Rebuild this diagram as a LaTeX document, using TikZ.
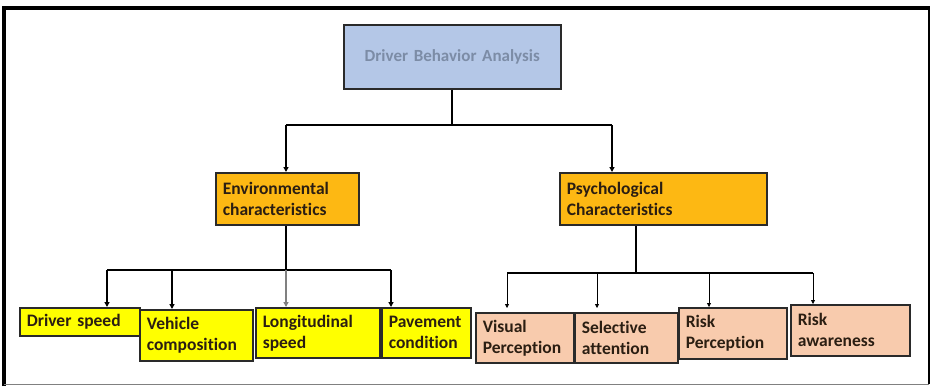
\documentclass[tikz,border=0pt]{standalone}
\usepackage{fontspec}
\setmainfont{Carlito}[Ligatures={NoCommon}]
\usetikzlibrary{arrows.meta}
\definecolor{rootfill}{HTML}{B4C7E7}
\definecolor{roottext}{HTML}{7C8CA6}
\definecolor{orangefill}{HTML}{FDB813}
\definecolor{yellowfill}{HTML}{FFFF00}
\definecolor{peachfill}{HTML}{F8CBAD}
\definecolor{boxline}{HTML}{2A2A2A}
\definecolor{txt}{HTML}{2B1E12}
\tikzset{
  box/.style={draw=boxline, line width=1.6pt, rectangle, inner xsep=7pt, inner ysep=0pt,
    align=left, font=\bfseries\fontsize{17.5}{21}\selectfont, text=txt, anchor=north west},
  rootbox/.style={box, fill=rootfill, align=center, text=roottext, font=\bfseries\fontsize{17}{20}\selectfont},
  obox/.style={box, fill=orangefill},
  ybox/.style={box, fill=yellowfill},
  pbox/.style={box, fill=peachfill},
  conn/.style={draw=black, line width=1.6pt},
  thinarr/.style={draw=black, line width=0.8pt, -{Triangle[length=4pt,width=4pt]}},
  thickarr/.style={draw=black, line width=1.6pt, -{Triangle[length=5pt,width=5pt]}},
}
\newcommand{\bx}[7]{% name, style, x1, y1, x2, y2, text
  \node[#2, minimum width={(#5-#3)*1pt}, minimum height={(#6-#4)*1pt},
        text width={(#5-#3-14)*1pt}] (#1) at (#3,#4) {#7};}
\begin{document}
\begin{tikzpicture}[x=1pt,y=-1pt]
\useasboundingbox (0,0) rectangle (932,386);
% frame
\draw[line width=4pt] (4,386) -- (4,8) -- (930,8);
\draw[line width=2pt] (929,8) -- (929,384);
\draw[line width=1.2pt, draw=gray] (4,384.5) -- (929,384.5);

% boxes
\bx{root}{rootbox}{343}{24}{560}{88}{Driver Behavior Analysis}
\bx{env}{obox}{215}{172}{358}{224}{Environmental\\characteristics}
\bx{psy}{obox}{559}{172}{766}{224}{Psychological\\Characteristics}
\bx{ds}{ybox}{19}{307}{139}{335}{Driver speed}
\bx{vc}{ybox}{139}{309}{252}{360}{Vehicle\\composition}
\bx{ls}{ybox}{255}{307}{379}{357}{Longitudinal\\speed}
\bx{pc}{ybox}{381}{307}{470}{357}{Pavement\\condition}
\bx{vp}{pbox}{475}{312}{573}{362}{Visual\\Perception}
\bx{sa}{pbox}{574}{312}{677}{362}{Selective\\attention}
\bx{rp}{pbox}{678}{307}{786}{358}{Risk\\Perception}
\bx{ra}{pbox}{790}{304}{909}{355}{Risk\\awareness}

% top level connectors
\coordinate (j0) at (452,125);
\coordinate (jl) at (286,125);
\coordinate (jr) at (612,125);
\draw[conn] (root.south -| j0) -- (j0);
\draw[conn] (jl) -- (jr);
\draw[thickarr] (jl) -- (jl |- env.north);
\draw[thickarr] (jr) -- (jr |- psy.north);

% environmental bus
\coordinate (eb) at (286,270);
\coordinate (e1) at (107,270);
\coordinate (e2) at (172,270);
\coordinate (e3) at (286,270);
\coordinate (e4) at (391,270);
\draw[conn] (eb |- env.south) -- (eb);
\draw[conn] (e1) -- (e4);
\draw[thickarr] (e1) -- (e1 |- ds.north);
\draw[thickarr] (e2) -- (e2 |- vc.north);
\draw[thickarr, draw=gray] (e3) -- (e3 |- ls.north);
\draw[thickarr] (e4) -- (e4 |- pc.north);

% psychological bus
\coordinate (pb) at (636,273);
\coordinate (p1) at (507,273);
\coordinate (p2) at (597,273);
\coordinate (p3) at (709,273);
\coordinate (p4) at (813,273);
\draw[conn, line width=2pt] (pb |- psy.south) -- (pb);
\draw[conn, line width=2.4pt] (p1) -- (p4);
\draw[thinarr, shorten >=4pt] (p1) -- (p1 |- vp.north);
\draw[thinarr, shorten >=4pt] (p2) -- (p2 |- sa.north);
\draw[thinarr] (p3) -- (p3 |- rp.north);
\draw[thinarr] (p4) -- (p4 |- ra.north);
\end{tikzpicture}
\end{document}
